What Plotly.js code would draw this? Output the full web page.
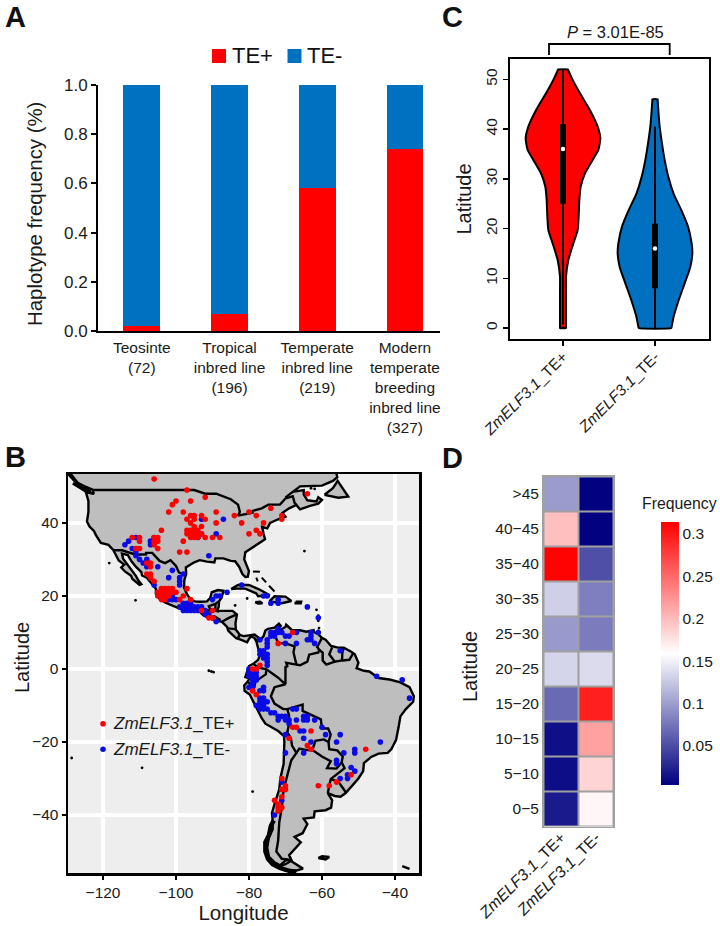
<!DOCTYPE html>
<html><head><meta charset="utf-8">
<script src="https://cdn.plot.ly/plotly-3.0.1.min.js"></script>
<style>html,body{margin:0;padding:0;background:#fff}</style></head>
<body><div id="chart" style="width:720px;height:926px"></div>
<script>
// ---------- Panel A ----------
const groupLabels = ["Teosinte<br>(72)","Tropical<br>inbred line<br>(196)","Temperate<br>inbred line<br>(219)","Modern<br>temperate<br>breeding<br>inbred line<br>(327)"];
const tePlusFreq = [0.02,0.07,0.58,0.74];
const teMinusFreq = [0.98,0.93,0.42,0.26];

// ---------- Panel C ----------
const redViolinLat = [52,51.8,49.9,47.2,43.8,40.5,38.1,35.8,33.8,31.1,28.4,25.7,22.4,19.7,17,13.7,10.3,7,0.3,0];
const redViolinWidth = [15,16,29,51,81,104,112,106,89,66,53,49,47,44,31,16,9,9,9,9];
const blueViolinLat = [46,45.8,43.8,40.5,37.1,33.8,30.4,27,23.7,20.4,17,15,12.3,9,5.6,2.3,0.3,0];
const blueViolinWidth = [8,8,10,14,21,29,40,56,79,99,110,112,106,89,71,56,50,49];
const violinWidthUnit = 1/276;
const redBox = {whisker:[0,52], box:[25,41], median:36};
const blueBox = {whisker:[0,40.5], box:[8,21], median:16};
const violinLabels = ["<i>ZmELF3.1</i>_TE+","<i>ZmELF3.1</i>_TE-"];

// ---------- Panel D ----------
const latBands = [">45","40−45","35−40","30−35","25−30","20−25","15−20","10−15","5−10","0−5"];
const bandPlus  = [0.098,0.198,0.312,0.130,0.097,0.133,0.068,0.013,0.012,0.020];
const bandMinus = [0.005,0.005,0.052,0.081,0.079,0.137,0.295,0.216,0.185,0.164];

// ---------- Panel B : map outlines (lon,lat) ----------
const northAmerica = [[-134,58],[-130,55],[-128,52.3],[-127,51],[-125,50],[-123,49.2],[-122.5,48],[-124.7,48.4],[-124,46],[-124,43],[-124.4,40.4],[-123.7,39],[-122.5,37.8],[-121.9,36.6],[-120.6,34.5],[-118.5,34],[-117.2,32.6],[-116,30.5],[-115.7,29.7],[-114.2,28.6],[-115,27.8],[-114,26.7],[-112.3,25.5],[-112,24.7],[-110,23],[-109.5,23.2],[-110.3,24.2],[-111,25.5],[-112.5,27.5],[-113,28.5],[-114.5,30.2],[-114.8,31.6],[-113.2,31.2],[-112.2,29.5],[-111,28],[-109.5,26.5],[-109.3,25.6],[-108,25],[-106.5,23.3],[-105.5,22],[-105.5,20.5],[-104.5,19.2],[-103,18.2],[-101.5,17.5],[-99.5,16.7],[-97,15.9],[-95,16.1],[-94,16.2],[-92.5,14.7],[-91,13.9],[-89.5,13.4],[-87.7,13],[-87.4,12.9],[-86,11.5],[-85.7,10.5],[-85,9.8],[-83.5,8.4],[-82.8,8.2],[-81.5,7.6],[-80.5,7.3],[-80,8.2],[-79.5,8.9],[-78.5,8.5],[-78,7.5],[-77.4,8.6],[-78.5,9.4],[-80,9.2],[-81.5,9],[-82.5,9.3],[-83.6,10.8],[-83.7,12.5],[-83.3,14.9],[-84.5,15.9],[-86,15.9],[-88,15.8],[-88.8,15.9],[-88.3,17],[-88.2,18.5],[-87.5,19.5],[-87,21.4],[-88.5,21.6],[-90.2,21],[-90.6,19.5],[-91.5,18.5],[-93.5,18.4],[-94.8,18.5],[-96,19],[-97,20.5],[-97.8,22.3],[-97.7,24.5],[-97.2,26],[-97.3,27.8],[-95,29.2],[-93.5,29.8],[-91.5,29.4],[-89.5,29.2],[-89.2,30.3],[-87,30.3],[-85,29.6],[-83.8,29.5],[-82.7,28],[-81.8,26],[-81,25.2],[-80.3,25.3],[-80,26.8],[-81.3,30],[-81,32],[-79,33.3],[-77.5,34.3],[-75.6,35.5],[-76,37],[-76.4,38.9],[-75,38.5],[-74.2,40],[-72,41],[-70.7,41.6],[-70,41.7],[-70.8,42.8],[-69,44],[-67,44.9],[-66,43.7],[-63.5,44.6],[-61,45.3],[-60,46.3],[-61,47],[-61.5,45.9],[-64,46.2],[-65,47.8],[-65,49],[-68,48.5],[-70,47],[-66,50],[-60,50.2],[-57,51.5],[-55.8,52.5],[-57,58],[-134,58]];
const southAmerica = [[-77.4,8.6],[-76.8,8],[-76,9],[-75.5,10.5],[-74.8,11],[-73,11.3],[-71.8,12.4],[-71.3,11.8],[-71.9,11],[-71.6,10.2],[-71.1,10.9],[-70,11.5],[-69.8,12.1],[-68.2,10.6],[-66,10.6],[-64.3,10.2],[-62,10.7],[-62.8,10.4],[-61,9.5],[-60,8.5],[-59,8],[-57.5,6.3],[-55.9,5.9],[-54,5.8],[-52,4.7],[-51,4],[-50,1.7],[-50.5,0.2],[-48.5,-0.5],[-47,-0.7],[-44.5,-2.5],[-41.5,-2.9],[-38.5,-3.7],[-36,-5],[-34.8,-7.5],[-35,-9],[-37,-11],[-38.5,-13],[-39,-16],[-39.7,-19.5],[-41,-22],[-42,-23],[-44.5,-23.2],[-46.5,-24.1],[-48.5,-25.8],[-48.7,-28],[-50,-30],[-52,-32.2],[-53.5,-34],[-54.9,-35],[-56.5,-34.8],[-58.4,-34],[-57.2,-36],[-57.5,-38],[-59,-38.7],[-62,-39],[-62.2,-40.7],[-65,-41],[-64,-42.5],[-65.3,-45],[-67.5,-46],[-65.8,-47.5],[-67.5,-49.5],[-69,-51],[-68.4,-52.3],[-70,-52.5],[-71.5,-53.8],[-73,-53],[-74.5,-51.5],[-75,-49],[-74.5,-46],[-73.5,-44],[-73.5,-41.5],[-73.7,-39.5],[-73,-37],[-71.7,-33],[-71.4,-30],[-70.5,-26],[-70.3,-20],[-70.4,-18.4],[-72,-17],[-75.5,-15],[-76.5,-13.5],[-77.5,-11.5],[-78.7,-9],[-79.8,-7],[-81.2,-6],[-81.3,-4.5],[-80.3,-3.4],[-80,-2.6],[-81,-2.2],[-80.5,-0.5],[-80,0.8],[-78.8,1.4],[-77.5,2.5],[-77,3.8],[-77.5,6],[-77.9,7.2],[-77.4,8.6]];
const tierraDelFuego = [[-68.5,-52.6],[-65.2,-54.7],[-67,-55.2],[-70,-55.2],[-72,-54.2],[-70,-53.5],[-68.5,-52.6]];
const cuba = [[-84.9,21.9],[-83,23],[-80,23],[-77,21.7],[-74.3,20.2],[-77.5,19.9],[-78,20.7],[-81,22],[-83.5,22],[-84.9,21.9]];
const hispaniola = [[-74.4,18.5],[-73,19.9],[-70,19.8],[-68.4,18.6],[-71,18],[-72,18.2],[-74.4,18.5]];
const jamaica = [[-78.3,18.3],[-77,18.4],[-76.3,18],[-77.5,17.9],[-78.3,18.3]];
const puertoRico = [[-67.2,18.4],[-65.7,18.4],[-65.8,18],[-67.2,18],[-67.2,18.4]];
const newfoundland = [[-59.3,47.7],[-57,49.5],[-55.7,51.5],[-53.5,48.5],[-52.8,47.2],[-55.5,46.9],[-59.3,47.7]];
const vancouverIsland = [[-128.3,50.8],[-125.2,50],[-123.4,48.4],[-125,48.8],[-128.3,50.8]];
const falklands = [[-61,-51.8],[-60,-51.3],[-58,-51.5],[-59,-52.2],[-61,-51.8]];
const southGeorgia = [[-38,-54],[-36,-54.8],[-37,-54.5],[-38,-54]];
const bahamas1 = [[-78.9,26.7],[-77,26.6]];
const bahamas2 = [[-78,25],[-77.6,24]];
const bahamas3 = [[-76.5,25],[-75.3,23.7]];
const bahamas4 = [[-74.5,22.8],[-73,21.2]];
const fjordCoast = [[-73.2,-41.5],[-74,-43],[-74.5,-45.5],[-75.5,-47.5],[-75.5,-50],[-74.8,-52],[-73.5,-53.5],[-71.5,-54.5],[-69,-55.3],[-67,-55.6]];
const pacificNorthCoast = [[-129.5,53.5],[-128,52],[-127,50.8],[-125,49.5],[-123.4,48.8]];
const smallIslands = [[-91,-0.5],[-90.3,-0.7],[-89.7,-0.9],[-109.3,-27.1],[-128.6,-24.4],[-79,-33.6],[-118.3,29],[-111.1,18.8],[-64.8,32.3],[-63,49.5],[-62,49.3],[-61.5,16.2],[-61,14.6],[-61,13.2],[-61,10.4],[-60.8,11.2],[-80.5,19.3],[-83.8,17.4]];
const usCanada = [[-122.8,49],[-95,49],[-92,48],[-89,48],[-85,46.5],[-83,45],[-82.5,43],[-83,42],[-79,42.8],[-79,43.3],[-76.5,44],[-74.7,45],[-71.5,45],[-70,46.7],[-68,47.3],[-67.5,45.5],[-67,44.9]];
const usMexico = [[-117.1,32.5],[-114.8,32.5],[-111,31.3],[-108.2,31.4],[-108.2,31.8],[-106.5,31.8],[-104.5,29.6],[-103,29],[-101.5,29.8],[-100,28.2],[-99.2,26.4],[-97.2,25.9]];
const centralBorders = [
 [[-92.2,14.5],[-92.1,15],[-91.7,16],[-90.5,16],[-91,17.2],[-89.2,17.8],[-88.3,18.5]],
 [[-89.2,17.8],[-89.2,15.9],[-88.2,15.7]],
 [[-90.1,13.8],[-89.4,14.4],[-87.8,13.4]],
 [[-87.3,13],[-85.5,14],[-83.2,15]],
 [[-85.7,11.1],[-83.7,10.9]],
 [[-83,8.3],[-82.6,9.5]]];
const southBorders = [
 [[-71.3,11.8],[-72.3,11],[-73,9.5],[-72.4,8],[-72,7],[-70,7],[-67.5,6.2],[-67.8,4.5],[-67.3,2.5],[-67,1.2],[-69.8,1.7],[-69.5,0.7],[-70,0.5],[-70,-4.2],[-72,-2.4],[-74,-1],[-75.2,-0.1],[-77.5,0.4],[-78.8,1.4]],
 [[-75.2,-0.1],[-75.4,-1.5],[-78.2,-3.4],[-78.5,-4.8],[-79.5,-4.5],[-80.3,-3.4]],
 [[-67,1.2],[-66,1],[-64,2],[-63.5,3.9],[-61,4.5],[-60.7,5.2],[-61.3,6],[-60,8.5]],
 [[-60.7,5.2],[-59.8,4.5],[-59.8,2.3],[-58.8,1.2],[-56.5,2],[-58,4],[-57.2,5.9]],
 [[-56.5,2],[-54.5,2.3],[-54.4,4.5],[-54,5.8]],
 [[-54.5,2.3],[-52.5,2.5],[-51.5,4.2]],
 [[-70,-4.2],[-73,-5],[-74,-7.5],[-73,-9.5],[-70.6,-11],[-69.5,-11],[-69,-12.8],[-69.2,-16],[-69.5,-17.3],[-70.4,-18.4]],
 [[-69.5,-11],[-65.3,-9.8],[-65.3,-11.5],[-62,-13],[-60.3,-13.8],[-60,-16.3],[-58.3,-16.3],[-57.6,-18],[-58.2,-20],[-59.5,-19.3],[-61.8,-19.7],[-62.6,-22.2],[-64.5,-22.2],[-66.2,-21.8],[-67,-23]],
 [[-69.5,-17.3],[-68.5,-19],[-68.2,-21],[-67,-23],[-68.4,-25],[-69.7,-30],[-70.5,-33],[-71,-38],[-71.7,-42],[-72,-47],[-72.5,-50],[-71,-52],[-68.4,-52.3]],
 [[-62.6,-22.2],[-60,-24],[-57.6,-25.3],[-58.6,-27.2],[-56,-27.3],[-54.6,-25.6]],
 [[-58.2,-20],[-58,-22],[-55.8,-22.3],[-54.3,-24],[-54.6,-25.6],[-53.8,-27.2],[-57.6,-30.2],[-58.3,-33],[-58.4,-34]],
 [[-57.6,-30.2],[-55.5,-30.9],[-53.5,-33.7],[-53.5,-34]]];

// ---------- Panel B : sampling sites (lon,lat) ----------
const tePlusSites = [[-106,52],[-97,49],[-92,47],[-96,46],[-100,46],[-101,45],[-102,43],[-98,43],[-96,42],[-95,42],[-93,42],[-97,41],[-95,41],[-92,41],[-89,43],[-89,40],[-84,42],[-80,43],[-78,42],[-74,44],[-82,40],[-71,42],[-71,41],[-76,40],[-78,38],[-77,37],[-80,37],[-64,48],[-93,39],[-95,39],[-96,40],[-97,38],[-96,38],[-95,38],[-94,38],[-97,37],[-96,37],[-95,37],[-94,37],[-93,37],[-96,36],[-95,36],[-94,36],[-92,36],[-90,36],[-88,36],[-98,35],[-104,38],[-99,32],[-97,32],[-112,36],[-110,36],[-110,35],[-111,33],[-110,33],[-106,36],[-105,36],[-106,35],[-105,35],[-106,34],[-105,33],[-108,29],[-107,29],[-107,28],[-108,26],[-107,26],[-107,25],[-106,24],[-104,22],[-103,22],[-102,22],[-101,22],[-105,21],[-104,21],[-103,21],[-102,21],[-101,21],[-105,20],[-104,20],[-103,20],[-102,20],[-104,19],[-103,19],[-100,21],[-97,22],[-99,19],[-98,20],[-96,19],[-93,16],[-91,14],[-90,14],[-90,16],[-72,7],[-68,10],[-79,0],[-78,0],[-77,1],[-79,-6],[-78,-7],[-68,-16],[-67,-16],[-69,-19],[-63,-17],[-64,-21],[-63,-22],[-48,-22],[-52,-29],[-56,-31],[-58,-32],[-61,-32],[-71,-30],[-70,-32],[-71,-33],[-70,-33],[-71,-35],[-73,-36],[-72,-37],[-72,-38],[-71,-38],[-72,-39]];
const teMinusSites = [[-93,41],[-87,41],[-94,36],[-93,37],[-89,37],[-91,31],[-114,34],[-113,35],[-111,36],[-112,33],[-111,32],[-107,35],[-107,34],[-106,36],[-108,30],[-111,31],[-110,30],[-109,29],[-108,28],[-105,28],[-101,27],[-102,25],[-98,26],[-99,25],[-99,24],[-99,23],[-106,23],[-101,20],[-100,19],[-102,19],[-101,19],[-98,18],[-97,18],[-96,18],[-99,17],[-98,17],[-97,17],[-96,17],[-95,17],[-94,17],[-93,17],[-98,16],[-97,16],[-96,16],[-95,16],[-94,16],[-92,16],[-92,15],[-91,15],[-90,14],[-89,13],[-90,19],[-89,20],[-88,20],[-86,21],[-82,23],[-76,20],[-75,20],[-74,18],[-72,19],[-72,18],[-64,17],[-61,14],[-77,8],[-75,8],[-75,7],[-75,6],[-74,10],[-73,10],[-72,10],[-72,11],[-71,10],[-74,9],[-73,9],[-70,9],[-69,9],[-67,10],[-67,7],[-70,7],[-63,10],[-61,10],[-63,9],[-64,8],[-62,7],[-63,8],[-55,5],[-77,5],[-76,5],[-77,4],[-76,4],[-75,4],[-76,3],[-75,3],[-75,2],[-75,1],[-80,0],[-80,-1],[-79,-1],[-78,-1],[-80,-2],[-79,-2],[-78,-2],[-79,-3],[-78,-3],[-79,-4],[-80,-5],[-79,-5],[-76,-5],[-77,-6],[-76,-6],[-77,-8],[-76,-8],[-77,-9],[-76,-9],[-75,-9],[-78,-10],[-77,-10],[-76,-10],[-77,-11],[-76,-11],[-75,-11],[-74,-12],[-73,-12],[-72,-13],[-71,-13],[-72,-14],[-70,-14],[-69,-14],[-70,-13],[-69,-15],[-68,-11],[-67,-11],[-67,-14],[-65,-13],[-64,-13],[-65,-14],[-64,-14],[-62,-14],[-60,-16],[-59,-18],[-70,-18],[-66,-17],[-65,-17],[-65,-19],[-63,-20],[-70,-23],[-65,-23],[-55,-18],[-56,-20],[-44,-20],[-54,-23],[-51,-22],[-51,-23],[-56,-25],[-56,-26],[-55,-30],[-52,-27],[-51,-28],[-53,-29],[-53,-30],[-45,-2],[-38,-3],[-36,-8],[-71,-31],[-71,-36],[-73,-40]];
const legendDotsLon = [-120,-120];
const legendDotsLat = [-15,-22];

// ---------- helpers and styling ----------
const RED="#FF0000", BLUE="#0070C0", PT_BLUE="#0A0AE6", FONT="Liberation Sans, Arial, sans-serif", TXT="#1a1a1a";
const W=720,H=926, COAST=2.4, SITE=5.6;
const px=x=>x/W, py=y=>1-y/H;
const dx=(a,b)=>[a/W,b/W], dy=(top,bot)=>[1-bot/H,1-top/H];
const lons=a=>a.map(p=>p[0]), lats=a=>a.map(p=>p[1]);
const land=a=>({type:"scatter",mode:"lines",x:lons(a),y:lats(a),fill:"toself",fillcolor:"#BEBEBE",line:{color:"#000",width:COAST},xaxis:"x2",yaxis:"y2",hoverinfo:"skip",showlegend:false});
const stroke=(a,w)=>({type:"scatter",mode:"lines",x:lons(a),y:lats(a),line:{color:"#000",width:w},xaxis:"x2",yaxis:"y2",hoverinfo:"skip",showlegend:false});
const violin=(c,lat,wid,col)=>{
  const xs=[],ys=[];
  wid.forEach((w,i)=>{xs.push(c+w*violinWidthUnit);ys.push(lat[i]);});
  for(let i=wid.length-1;i>=0;i--){xs.push(c-wid[i]*violinWidthUnit);ys.push(lat[i]);}
  xs.push(xs[0]);ys.push(ys[0]);
  return {type:"scatter",mode:"lines",x:xs,y:ys,fill:"toself",fillcolor:col,line:{color:"#000",width:2,shape:"spline",smoothing:0.5},xaxis:"x3",yaxis:"y3",showlegend:false,hoverinfo:"skip"};
};
const vline=(c,r,w)=>({type:"scatter",mode:"lines",x:[c,c],y:r,line:{color:"#000",width:w},xaxis:"x3",yaxis:"y3",showlegend:false,hoverinfo:"skip"});
const dot=(x,y,col,s,ax,ay)=>({type:"scatter",mode:"markers",x:x,y:y,marker:{color:col,size:s},xaxis:ax,yaxis:ay,showlegend:false,hoverinfo:"skip"});

const traces=[
 {type:"bar",name:"TE+",x:[0,1,2,3],y:tePlusFreq,marker:{color:RED},width:0.42,xaxis:"x",yaxis:"y",showlegend:false},
 {type:"bar",name:"TE-",x:[0,1,2,3],y:teMinusFreq,marker:{color:BLUE},width:0.42,xaxis:"x",yaxis:"y",showlegend:false},
 land(northAmerica),land(southAmerica),land(tierraDelFuego),land(cuba),land(hispaniola),land(jamaica),land(puertoRico),land(newfoundland),land(vancouverIsland),land(falklands),land(southGeorgia),
 stroke(usCanada,COAST),stroke(usMexico,COAST),
 ...centralBorders.map(b=>stroke(b,COAST)),...southBorders.map(b=>stroke(b,COAST)),
 stroke(bahamas1,2),stroke(bahamas2,2),stroke(bahamas3,2),stroke(bahamas4,2),stroke(fjordCoast,4.5),stroke(pacificNorthCoast,3.5),
 dot(lons(smallIslands),lats(smallIslands),"#000",2.8,"x2","y2"),
 dot(lons(teMinusSites),lats(teMinusSites),PT_BLUE,SITE,"x2","y2"),
 dot(lons(tePlusSites),lats(tePlusSites),RED,SITE,"x2","y2"),
 dot(legendDotsLon,[legendDotsLat[0]],RED,SITE,"x2","y2"),
 dot(legendDotsLon,[legendDotsLat[1]],PT_BLUE,SITE,"x2","y2"),
 violin(0,redViolinLat,redViolinWidth,RED),
 violin(1,blueViolinLat,blueViolinWidth,BLUE),
 vline(0,redBox.whisker,2),vline(0,redBox.box,6),
 vline(1,blueBox.whisker,2),vline(1,blueBox.box,6),
 dot([0],[0.5],RED,2.5,"x3","y3"),
 dot([0,1],[redBox.median,blueBox.median],"#fff",4.5,"x3","y3"),
 {type:"heatmap",x:[0,1],y:latBands,z:latBands.map((b,i)=>[bandPlus[i],bandMinus[i]]),xaxis:"x4",yaxis:"y4",xgap:2,ygap:2,zmin:0.004,zmax:0.314,
  colorscale:[[0,"#000080"],[0.5,"#FFFFFF"],[1,"#FF0000"]],
  colorbar:{x:px(661),xanchor:"left",xpad:0,y:py(653.5),yanchor:"middle",ypad:0,len:263/H,lenmode:"fraction",thickness:18,thicknessmode:"pixels",outlinewidth:0,ticks:"",tickvals:[0.05,0.1,0.15,0.2,0.25,0.3],ticktext:["0.05","0.1","0.15","0.2","0.25","0.3"],tickfont:{size:15.5,color:TXT,family:FONT}}}
];

const baseTick={color:TXT,family:FONT};
const layout={
 width:W,height:H,margin:{l:0,r:0,t:0,b:0},autosize:false,paper_bgcolor:"#fff",plot_bgcolor:"rgba(0,0,0,0)",showlegend:false,barmode:"stack",font:{family:FONT,color:TXT},
 xaxis:{domain:dx(98,440),range:[-0.5,3.4],tickmode:"array",tickvals:[0,1,2,3],ticktext:groupLabels,tickangle:0,ticks:"",showline:true,linecolor:"#000",linewidth:2,tickfont:{...baseTick,size:15.5},showgrid:false,zeroline:false,anchor:"y",ticklabelstandoff:1},
 yaxis:{domain:dy(85,331),range:[0,1],tickvals:[0,0.2,0.4,0.6,0.8,1],tickformat:".1f",ticks:"outside",ticklen:5,tickwidth:2,tickcolor:"#000",showline:true,linecolor:"#000",linewidth:2,tickfont:{...baseTick,size:17},showgrid:false,zeroline:false,anchor:"x"},
 xaxis2:{domain:dx(68,419),range:[-129.6,-33.4],tickvals:[-120,-100,-80,-60,-40],ticks:"outside",ticklen:4,tickwidth:1.5,tickcolor:"#000",showline:true,mirror:true,linecolor:"#000",linewidth:2.5,showgrid:true,gridcolor:"#fff",gridwidth:3.5,zeroline:false,tickfont:{...baseTick,size:15.5},anchor:"y2",title:{text:"Longitude",font:{size:20.5,color:TXT,family:FONT},standoff:4}},
 yaxis2:{domain:dy(474,873),range:[-55.9,53.4],tickvals:[-40,-20,0,20,40],ticks:"outside",ticklen:4,tickwidth:1.5,tickcolor:"#000",showline:true,mirror:true,linecolor:"#000",linewidth:2.5,showgrid:true,gridcolor:"#fff",gridwidth:3.5,zeroline:false,tickfont:{...baseTick,size:15.5},anchor:"x2"},
 xaxis3:{domain:dx(510,709),range:[-0.576,1.587],tickmode:"array",tickvals:[0,1],ticktext:violinLabels,tickangle:-45,ticks:"outside",ticklen:5,tickwidth:1.5,tickcolor:"#000",showline:true,mirror:true,linecolor:"#000",linewidth:1.8,showgrid:false,zeroline:false,tickfont:{...baseTick,size:15.5},anchor:"y3",ticklabelstandoff:-4},
 yaxis3:{domain:dy(59,339),range:[-2.2,54.1],tickvals:[0,10,20,30,40,50],tickangle:-90,ticks:"outside",ticklen:5,tickwidth:1.5,tickcolor:"#000",showline:true,mirror:true,linecolor:"#000",linewidth:1.8,showgrid:false,zeroline:false,tickfont:{...baseTick,size:15.5},anchor:"x3",title:{text:"Latitude",font:{size:20,color:TXT,family:FONT},standoff:6}},
 xaxis4:{domain:dx(543.5,613),range:[-0.5,1.5],tickmode:"array",tickvals:[0,1],ticktext:violinLabels,tickangle:-45,ticks:"",showline:true,mirror:true,linecolor:"#A0A0A0",linewidth:1.5,showgrid:false,zeroline:false,tickfont:{...baseTick,size:16},anchor:"y4",ticklabelstandoff:-6},
 yaxis4:{domain:dy(476.5,826.5),type:"category",categoryorder:"array",categoryarray:latBands,autorange:"reversed",ticks:"",showline:true,mirror:true,linecolor:"#A0A0A0",linewidth:1.5,showgrid:false,zeroline:false,tickfont:{...baseTick,size:15.5},anchor:"x4"},
 shapes:[
  {type:"rect",xref:"x2 domain",yref:"y2 domain",x0:0,x1:1,y0:0,y1:1,layer:"below",fillcolor:"#EEEEEE",line:{width:0}},
  {type:"rect",xref:"x4 domain",yref:"y4 domain",x0:0,x1:1,y0:0,y1:1,layer:"below",fillcolor:"#A0A0A0",line:{width:0}},
  {type:"rect",xref:"paper",yref:"paper",x0:px(212),x1:px(226),y0:py(63),y1:py(49),fillcolor:RED,line:{width:0}},
  {type:"rect",xref:"paper",yref:"paper",x0:px(287.5),x1:px(301.5),y0:py(63),y1:py(49),fillcolor:BLUE,line:{width:0}},
  {type:"path",xref:"paper",yref:"paper",path:`M ${px(549)} ${py(55)} L ${px(549)} ${py(44)} L ${px(669.7)} ${py(44)} L ${px(669.7)} ${py(55)}`,line:{color:"#000",width:1.8}}
 ],
 annotations:[
  ...[["A",3,17],["B",3,457],["C",440,17],["D",440,458]].map(a=>({text:"<b>"+a[0]+"</b>",xref:"paper",yref:"paper",x:px(a[1]),y:py(a[2]),xanchor:"left",yanchor:"middle",showarrow:false,font:{size:29,color:"#111",family:FONT}})),
  {text:"TE+",xref:"paper",yref:"paper",x:px(230),y:py(55.5),xanchor:"left",yanchor:"middle",showarrow:false,font:{size:22,color:"#111",family:FONT}},
  {text:"TE-",xref:"paper",yref:"paper",x:px(305),y:py(55.5),xanchor:"left",yanchor:"middle",showarrow:false,font:{size:22,color:"#111",family:FONT}},
  {text:"Haplotype frequency (%)",xref:"paper",yref:"paper",x:px(35),y:py(214),textangle:-90,xanchor:"center",yanchor:"middle",showarrow:false,font:{size:20.4,color:TXT,family:FONT}},
  {text:"Latitude",xref:"paper",yref:"paper",x:px(22),y:py(658),textangle:-90,xanchor:"center",yanchor:"middle",showarrow:false,font:{size:20,color:TXT,family:FONT}},
  {text:"Latitude",xref:"paper",yref:"paper",x:px(470),y:py(667),textangle:-90,xanchor:"center",yanchor:"middle",showarrow:false,font:{size:20,color:TXT,family:FONT}},
  {text:"<i>ZmELF3.1</i>_TE+",xref:"x2",yref:"y2",x:-117.7,y:legendDotsLat[0],xanchor:"left",yanchor:"middle",showarrow:false,font:{size:17,color:TXT,family:FONT}},
  {text:"<i>ZmELF3.1</i>_TE-",xref:"x2",yref:"y2",x:-117.7,y:legendDotsLat[1],xanchor:"left",yanchor:"middle",showarrow:false,font:{size:17,color:TXT,family:FONT}},
  {text:"<i>P</i> = 3.01E-85",xref:"paper",yref:"paper",x:px(615),y:py(32),xanchor:"center",yanchor:"middle",showarrow:false,font:{size:16.5,color:TXT,family:FONT}},
  {text:"Frequency",xref:"paper",yref:"paper",x:px(640),y:py(503),xanchor:"left",yanchor:"middle",showarrow:false,font:{size:15.8,color:TXT,family:FONT}}
 ]
};
Plotly.newPlot("chart",traces,layout,{staticPlot:true,displayModeBar:false});
</script></body></html>
